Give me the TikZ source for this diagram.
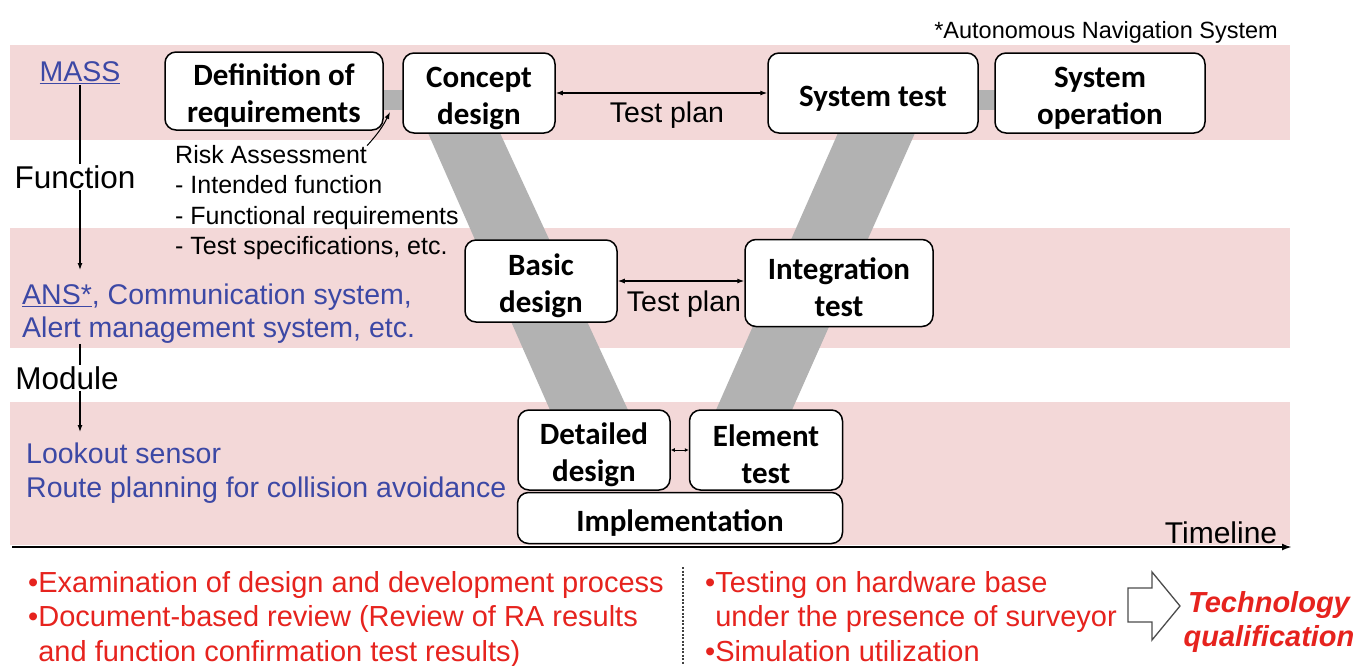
\documentclass[tikz,border=0pt]{standalone}
\usepackage{fontspec}
\setmainfont{Liberation Sans}
\newfontfamily\boxfont{Carlito}
\usetikzlibrary{arrows.meta}
\definecolor{pinkband}{RGB}{243,216,216}
\definecolor{vgray}{RGB}{178,178,178}
\definecolor{bluetxt}{RGB}{60,72,165}
\definecolor{redtxt}{RGB}{230,35,30}
\newcommand\bxstrut{\rule{0pt}{31pt}}
\begin{document}
\begin{tikzpicture}[x=1pt,y=-1pt,
  stepbox/.style={draw, line width=1.5pt, rounded corners=11pt, fill=white, align=center, inner sep=0pt,
    font=\boxfont\bfseries\fontsize{31}{37}\selectfont},
  lbl/.style={inner sep=0pt, font=\fontsize{28.5}{33}\selectfont},
  biglbl/.style={inner sep=1pt, font=\fontsize{31.5}{36}\selectfont},
  smalllbl/.style={inner sep=0pt, font=\fontsize{25}{30.5}\selectfont},
  redlbl/.style={inner sep=0pt, text=redtxt, align=left, font=\fontsize{29}{34.5}\selectfont},
  thinline/.style={line width=1.2pt},
  arr/.style={line width=1.2pt, -{Latex[length=7pt,width=5pt]}},
  dblarr/.style={line width=1.2pt, {Latex[length=7pt,width=5pt]}-{Latex[length=7pt,width=5pt]}}
]
\useasboundingbox (0,0) rectangle (1369,665);
\fill[white] (0,0) rectangle (1369,665);
% bands
\fill[pinkband] (10,45) rectangle (1290,140);
\fill[pinkband] (10,228) rectangle (1290,348);
\fill[pinkband] (10,402) rectangle (1290,545);
% V shape
\fill[vgray] (428,133) -- (500,133) -- (628,410) -- (550,410) -- cycle;
\fill[vgray] (838,133) -- (915,133) -- (792,410) -- (716,410) -- cycle;
\fill[vgray] (380,90) rectangle (405,110);
\fill[vgray] (975,90) rectangle (998,110);
% boxes
\node[stepbox, minimum width=218pt, minimum height=78pt] (defreq) at (274,91) {\bxstrut Definition of\\requirements};
\node[stepbox, minimum width=152pt, minimum height=80pt] (concept) at (479,93) {\bxstrut Concept\\design};
\node[stepbox, minimum width=210pt, minimum height=80pt] (systest) at (873,93) {\bxstrut System test};
\node[stepbox, minimum width=210pt, minimum height=80pt] (sysop) at (1100,93) {\bxstrut System\\operation};
\node[stepbox, minimum width=152pt, minimum height=82pt] (basic) at (541,281) {\bxstrut Basic\\design};
\node[stepbox, minimum width=188pt, minimum height=87pt] (integ) at (839,283) {\bxstrut Integration\\test};
\node[stepbox, minimum width=152pt, minimum height=80pt] (detailed) at (594,450) {\bxstrut Detailed\\design};
\node[stepbox, minimum width=153pt, minimum height=80pt] (element) at (766,450) {\bxstrut Element\\test};
\node[stepbox, minimum width=325pt, minimum height=51pt] (impl) at (680,518) {\bxstrut Implementation};
% test plan arrows
\draw[dblarr] (concept.east) -- (systest.west);
\node[lbl] (tp1) at (667,115) {Test plan};
\draw[dblarr] (basic.east) -- (basic.east -| integ.west);
\node[lbl] (tp2) at (684,304) {Test plan};
\draw[line width=1pt, {Latex[length=4pt,width=4pt]}-{Latex[length=4pt,width=4pt]}] (detailed.east) -- (element.west);
% left column
\node[lbl, text=bluetxt, inner sep=1pt] (mass) at (80,73) {\underline{MASS}};
\node[biglbl] (func) at (75,177) {Function};
\draw[thinline] (mass.south) -- (mass.south |- func.north);
\coordinate (ansarrow) at (80,270);
\draw[arr] (mass.south |- func.south) -- (ansarrow);
\node[lbl, anchor=west, align=left, text=bluetxt] (ans) at (22,314) {\underline{ANS*}, Communication system,\\Alert management system, etc.};
\node[biglbl] (module) at (67,378) {Module};
\draw[thinline] (mass.south |- ans.south) -- (mass.south |- module.north);
\coordinate (lookarrow) at (80,432);
\draw[arr] (mass.south |- module.south) -- (lookarrow);
\node[lbl, anchor=west, align=left, text=bluetxt, font=\fontsize{28.5}{34}\selectfont] (look) at (26,473) {Lookout sensor\\Route planning for collision avoidance};
% risk assessment
\node[smalllbl, anchor=west] (risk) at (175,155) {Risk Assessment};
\node[smalllbl, anchor=west, align=left] (risklist) at (175,218) {- Intended function\\- Functional requirements\\- Test specifications, etc.};
\coordinate (ratip) at (390,112);
\draw[line width=1pt, -{Latex[length=7pt,width=5pt]}] (risk.north east) to[bend right=8] (ratip);
% notes
\node[anchor=east, inner sep=0pt, font=\fontsize{23.5}{28}\selectfont] (ansnote) at (1278,32) {*Autonomous Navigation System};
% timeline
\coordinate (tlstart) at (12,547);
\coordinate (tlend) at (1292,547);
\draw[line width=2pt, -{Latex[length=10pt,width=7pt]}] (tlstart) -- (tlend);
\node[inner sep=0pt, font=\fontsize{30}{34}\selectfont] (timeline) at (1221,533) {Timeline};
% bottom
\node[redlbl, anchor=north west] (redl) at (28,571) {•Examination of design and development process\\•Document-based review (Review of RA results\\\hphantom{•}and function confirmation test results)};
\node[redlbl, anchor=north west] (redr) at (705,571) {•Testing on hardware base\\\hphantom{•}under the presence of surveyor\\•Simulation utilization};
\draw[dash pattern=on 2pt off 1.5pt, line width=1.8pt, black!75] (683,567) -- (683,665);
\draw[line width=1.3pt, black!70, fill=white] (1128,588) -- (1152,588) -- (1152,572) -- (1180,606) -- (1152,640) -- (1152,622) -- (1128,622) -- cycle;
\node[inner sep=0pt, align=center, text=redtxt, font=\bfseries\itshape\fontsize{29}{34}\selectfont] (tq) at (1269,622) {Technology\\qualification};
\end{tikzpicture}
\end{document}
